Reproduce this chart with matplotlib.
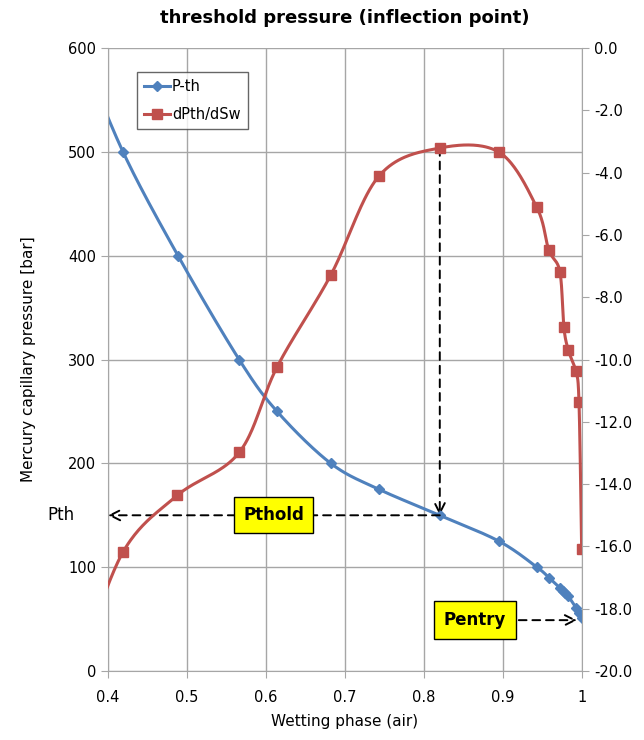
import numpy as np
import matplotlib
matplotlib.use('Agg')
import matplotlib.pyplot as plt

plt.rcParams['font.family'] = ['DejaVu Sans']

# P-th curve (left axis, bar); first point sits left of the visible range
sw_pth = [0.365, 0.419, 0.4886, 0.566, 0.614, 0.682, 0.743, 0.820, 0.895, 0.943,
          0.958, 0.9722, 0.9756, 0.9785, 0.9827, 0.9924, 0.9962, 0.9996]
pth = [600, 500, 400, 300, 250, 200, 175, 150, 125, 100,
       90, 80, 77, 75, 72, 61, 56, 51]

# dPth/dSw curve (right axis)
sw_der = [0.365, 0.419, 0.4878, 0.5662, 0.614, 0.682, 0.743, 0.820, 0.8954, 0.9427,
          0.958, 0.972, 0.977, 0.9827, 0.992, 0.9962, 0.9996]
dpth = [-19.8, -16.18, -14.36, -12.98, -10.24, -7.29, -4.11, -3.21, -3.35, -5.11,
        -6.48, -7.18, -8.95, -9.70, -10.37, -11.35, -16.09]

pth_sw, pth_val = 0.820, 150      # threshold (inflection) point
pth_der = -3.21
pentry_sw, pentry_val = 0.9937, 49

BLUE = '#4F81BD'
RED = '#C0504D'
GRID = '#A6A6A6'


def smooth(x, y, n=40):
    # Excel-like smoothed line: Catmull-Rom as cubic Bezier segments
    p = np.column_stack([x, y]).astype(float)
    out = []
    for i in range(len(p) - 1):
        p0 = p[max(i - 1, 0)]
        p1 = p[i]
        p2 = p[i + 1]
        p3 = p[min(i + 2, len(p) - 1)]
        c1 = p1 + (p2 - p0) / 6
        c2 = p2 - (p3 - p1) / 6
        t = np.linspace(0, 1, n)[:, None]
        seg = ((1 - t) ** 3 * p1 + 3 * (1 - t) ** 2 * t * c1
               + 3 * (1 - t) * t ** 2 * c2 + t ** 3 * p2)
        out.append(seg if i == 0 else seg[1:])
    out = np.vstack(out)
    return out[:, 0], out[:, 1]


fig = plt.figure(figsize=(6.44, 7.40), dpi=100)
ax = fig.add_axes([0.1677, 0.0932, 0.736, 0.8419])
ax2 = ax.twinx()

ax.set_xlim(0.4, 1.0)
ax.set_ylim(0, 600)
ax2.set_ylim(-20, 0)

ax.set_xticks(np.arange(0.4, 1.001, 0.1))
ax.set_xticklabels(['0.4', '0.5', '0.6', '0.7', '0.8', '0.9', '1'])
ax.set_yticks(range(0, 601, 100))
ax2.set_yticks(range(-20, 1, 2))
ax2.set_yticklabels(['%.1f' % v for v in range(-20, 1, 2)])

ax.grid(True, color=GRID, lw=1)
ax.set_axisbelow(True)
for a in (ax, ax2):
    for s in a.spines.values():
        s.set_visible(False)
    a.tick_params(labelsize=10.5, length=5, color=GRID)
ax.spines['left'].set_visible(True)
ax.spines['left'].set_color(GRID)
ax.spines['bottom'].set_visible(True)
ax.spines['bottom'].set_color(GRID)
ax2.spines['right'].set_visible(True)
ax2.spines['right'].set_color(GRID)
ax.tick_params(axis='x', pad=9)

xs, ys = smooth(sw_pth, pth)
ax.plot(xs, ys, color=BLUE, lw=2.2)
ax.plot(sw_pth, pth, ls='none', marker='D', ms=5.5, color=BLUE)

xs, ys = smooth(sw_der, dpth)
ax2.plot(xs, ys, color=RED, lw=2.2)
ax2.plot(sw_der, dpth, ls='none', marker='s', ms=7, color=RED)

ax.set_xlabel('Wetting phase (air)', fontsize=11, labelpad=6)
ax.set_ylabel('Mercury capillary pressure [bar]', fontsize=11, labelpad=23)
ax.set_title('threshold pressure (inflection point)', fontsize=13,
             fontweight='bold', pad=18)

# legend
h1, = ax.plot([], [], color=BLUE, lw=2.2, marker='D', ms=5.5, label='P-th')
h2, = ax.plot([], [], color=RED, lw=2.2, marker='s', ms=7, label='dPth/dSw')
leg = ax.legend(handles=[h1, h2], loc='upper left', bbox_to_anchor=(0.061, 0.962),
                fontsize=10.5, frameon=True, fancybox=False, handlelength=1.8,
                borderpad=0.5, labelspacing=0.9, handletextpad=0.1,
                borderaxespad=0)
leg.get_frame().set_edgecolor('#404040')
leg.get_frame().set_linewidth(1)

# dashed arrows
arrow = dict(arrowstyle='->', color='black', lw=1.4, ls=(0, (4, 3)),
             shrinkA=0, shrinkB=0, mutation_scale=18)
ax.annotate('', xy=(pth_sw, pth_val), xycoords=ax.transData,
            xytext=(pth_sw, pth_der), textcoords=ax2.transData,
            arrowprops=arrow, zorder=5)
ax.annotate('', xy=(0.4, pth_val), xytext=(pth_sw, pth_val),
            arrowprops=arrow, annotation_clip=False, zorder=5)
ax.annotate('', xy=(pentry_sw, pentry_val), xytext=(0.92, pentry_val),
            arrowprops=arrow, zorder=5)

ax.text(0.610, pth_val, 'Pthold', ha='center', va='center', fontsize=12,
        fontweight='bold', zorder=6,
        bbox=dict(boxstyle='square,pad=0.55', fc='#FFFF00', ec='black', lw=1))
ax.text(0.8646, pentry_val, 'Pentry', ha='center', va='center', fontsize=12,
        fontweight='bold', zorder=6,
        bbox=dict(boxstyle='square,pad=0.6', fc='#FFFF00', ec='black', lw=1))
ax.text(0.34, pth_val, 'Pth', ha='center', va='center', fontsize=12,
        clip_on=False)

fig.savefig('out.png', dpi=100)
